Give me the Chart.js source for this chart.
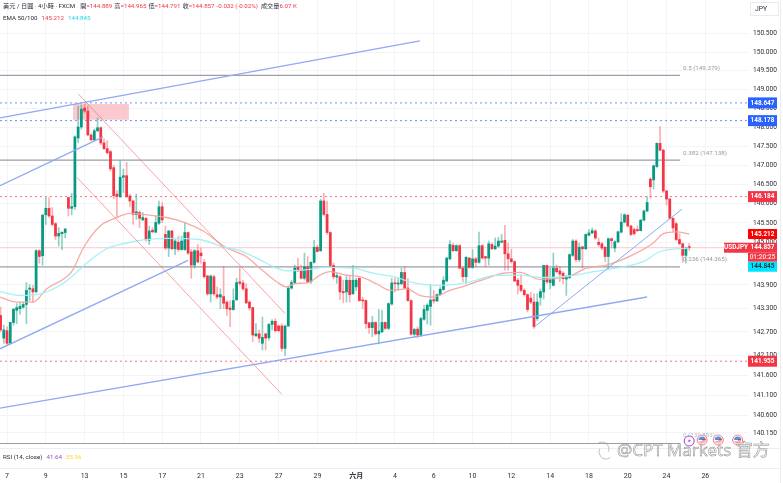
<!DOCTYPE html>
<html>
<head>
<meta charset="utf-8">
<title>USDJPY 4H</title>
<script src="https://cdn.jsdelivr.net/npm/chart.js@4"></script>
<style>
  html, body { margin: 0; padding: 0; background: #fff; }
  canvas { display: block; }
</style>
</head>
<body>
<canvas id="myChart" width="783" height="483"></canvas>
<script>
// 4h candles, the first one sits two bars left of the "7" tick
var opens = [
  143.12,142.54,142.73,142.41,142.94,143.25,143.29,143.33,143.40,143.79,
  143.80,143.72,144.78,144.65,145.71,145.88,145.68,145.48,145.16,145.22,
  145.25,146.16,145.88,145.92,147.72,148.01,148.51,148.43,147.80,147.67,
  147.91,147.99,147.59,147.44,147.36,146.94,146.25,146.18,146.69,146.73,
  146.20,146.07,145.72,145.77,145.58,145.62,145.05,145.31,145.26,145.49,
  145.92,145.20,144.85,145.29,144.83,145.00,144.81,144.81,145.25,144.75,
  144.41,144.78,144.72,144.48,144.13,143.67,144.11,143.65,143.59,143.60,
  143.46,143.31,143.27,143.52,143.98,143.95,143.80,143.46,143.32,142.60,
  142.65,142.41,142.65,142.55,142.89,142.97,142.85,142.85,142.28,142.85,
  143.82,143.96,144.35,144.28,144.07,144.37,143.98,144.48,144.87,144.78,
  146.07,145.72,145.25,144.40,144.10,144.11,143.73,143.72,144.02,143.67,
  143.85,144.07,143.51,143.50,142.93,142.81,142.94,142.65,142.70,142.94,
  142.79,143.41,143.95,143.92,143.93,144.22,143.82,143.50,142.64,142.77,
  142.62,143.02,143.25,143.35,143.52,143.49,143.65,143.78,144.00,144.57,
  144.92,144.78,144.91,144.33,144.11,144.59,144.35,144.57,144.48,144.91,
  144.63,144.59,144.94,144.83,144.90,145.00,145.05,144.70,144.57,144.50,
  144.02,143.89,143.76,143.65,143.56,143.46,143.04,143.58,143.72,144.40,
  143.96,143.89,144.33,144.26,144.20,144.05,144.09,144.66,145.03,144.55,
  144.88,144.83,145.18,145.24,145.29,145.00,144.96,144.87,144.63,145.09,
  144.85,145.01,145.26,145.52,145.70,145.42,145.33,145.33,145.30,145.57,
  145.81,146.64,146.62,146.97,147.58,147.40,146.33,146.12,145.62,145.48,
  145.07,144.96,144.66,144.889
];
var highs = [
  143.33,142.87,142.83,142.94,143.29,143.42,143.46,143.46,143.96,143.91,
  143.89,144.81,144.81,145.72,146.16,146.16,145.90,145.51,145.38,145.26,
  145.36,146.16,146.27,147.78,148.56,148.59,148.62,148.56,147.83,147.96,
  148.25,148.02,147.70,147.65,147.40,147.00,146.34,147.12,146.90,147.08,
  146.25,146.09,146.25,145.81,145.77,145.64,145.42,145.38,145.68,146.07,
  146.03,145.42,145.31,145.31,145.07,145.16,145.16,145.51,145.27,144.81,
  144.81,144.94,144.85,144.55,144.15,144.15,144.15,143.85,143.80,144.37,
  143.50,143.50,143.80,144.07,144.33,144.02,143.93,143.50,143.33,142.91,
  142.75,143.08,142.66,142.91,143.01,143.04,142.87,142.91,142.87,143.85,
  144.02,144.41,144.59,144.41,144.72,144.63,144.50,145.05,144.92,146.12,
  146.27,146.07,145.27,144.46,144.20,144.14,144.02,144.15,144.15,144.40,
  144.07,144.08,143.59,143.52,142.95,143.10,142.96,143.27,143.25,142.96,
  143.44,144.07,144.07,144.07,144.33,144.37,144.07,143.52,142.79,142.83,
  143.07,143.38,143.42,143.91,143.76,143.67,143.85,144.11,144.61,145.04,
  144.98,144.94,144.94,144.35,144.63,144.61,144.81,144.61,145.26,144.94,
  144.63,145.03,144.98,145.11,145.13,145.20,145.44,144.98,144.81,144.52,
  144.07,144.15,143.80,143.67,143.71,143.67,143.67,143.80,144.41,144.41,
  144.33,144.72,144.41,144.37,144.24,144.15,144.70,145.07,145.07,144.98,
  144.90,145.22,145.33,145.37,145.33,145.11,145.00,144.89,145.11,145.11,
  145.04,145.29,145.74,145.74,145.72,145.44,145.37,145.42,145.59,145.83,
  146.18,146.68,147.00,147.59,148.02,147.43,146.35,146.14,145.64,145.51,
  145.22,144.98,144.87,144.965
];
var lows = [
  142.70,142.41,142.37,142.39,142.87,142.91,143.15,143.30,142.91,143.50,
  143.46,143.71,144.46,144.41,145.46,145.64,145.42,145.07,144.90,144.81,
  145.11,145.68,145.71,145.85,147.60,147.95,148.38,147.78,147.65,147.65,
  147.88,147.54,147.41,147.30,146.85,146.13,145.64,146.16,146.29,146.16,
  145.93,145.46,145.59,145.38,145.55,145.03,144.94,145.24,145.24,145.46,
  145.51,144.81,144.63,144.81,144.68,144.76,144.79,144.79,144.68,144.07,
  144.33,144.46,144.46,144.07,143.63,143.46,143.63,143.54,143.29,143.29,
  143.12,142.83,143.25,143.50,143.89,143.76,143.42,143.25,142.45,142.58,
  142.43,142.24,142.24,142.49,142.75,142.70,142.70,142.21,142.10,142.83,
  143.79,143.94,144.24,144.05,144.02,143.94,143.94,144.46,144.75,144.76,
  145.68,145.20,144.37,144.05,143.94,143.52,143.44,143.46,143.46,143.66,
  143.76,143.48,143.29,142.79,142.66,142.58,142.62,142.39,142.68,142.75,
  142.75,143.38,143.72,143.76,143.91,143.80,143.48,142.62,142.58,142.55,
  142.58,143.00,142.90,142.87,143.43,143.47,143.63,143.76,143.98,144.54,
  144.76,144.76,144.31,143.98,143.93,144.33,144.33,144.37,144.46,144.57,
  144.37,144.41,144.81,144.81,144.87,144.98,144.28,144.28,144.46,143.98,
  143.67,143.72,143.61,143.21,143.42,142.79,142.99,143.38,143.54,143.93,
  143.80,143.87,144.20,143.98,143.93,143.63,144.06,144.63,144.50,144.50,
  144.33,144.81,145.16,145.22,145.07,144.89,144.81,144.50,144.31,144.85,
  144.75,144.98,145.24,145.50,145.39,145.17,145.18,145.27,145.29,145.55,
  145.79,146.14,146.38,146.95,147.38,146.29,145.97,145.59,145.27,145.03,
  144.94,144.48,144.46,144.791
];
var closes = [
  142.75,142.75,142.41,142.94,143.28,143.32,143.35,143.40,143.76,143.82,
  143.72,144.78,144.63,145.70,145.88,145.68,145.46,145.16,145.23,145.26,
  145.34,145.88,145.92,147.75,148.01,148.48,148.43,147.80,147.67,147.91,
  147.99,147.59,147.44,147.33,146.91,146.21,146.19,146.69,146.73,146.18,
  146.07,145.72,145.79,145.62,145.64,145.07,145.29,145.27,145.51,145.92,
  145.58,144.85,145.29,144.83,145.03,144.81,145.03,145.25,144.72,144.41,
  144.78,144.49,144.65,144.11,143.67,144.13,143.67,143.59,143.65,143.43,
  143.29,143.27,143.50,143.96,143.94,143.80,143.44,143.31,142.62,142.65,
  142.54,142.56,142.54,142.89,142.97,142.73,142.73,142.28,142.85,143.82,
  143.96,144.33,144.26,144.07,144.37,143.96,144.48,144.87,144.76,146.07,
  145.72,145.25,144.40,144.11,144.14,143.72,143.70,144.02,143.65,144.02,
  144.02,143.50,143.49,142.91,142.81,142.94,142.65,142.72,142.94,142.79,
  143.42,143.95,143.93,143.95,144.22,143.82,143.50,142.64,142.76,142.62,
  143.04,143.27,143.38,143.51,143.49,143.65,143.79,144.02,144.59,144.94,
  144.78,144.91,144.33,144.11,144.61,144.35,144.57,144.48,144.91,144.59,
  144.59,144.96,144.83,144.90,145.03,145.03,144.70,144.57,144.50,144.00,
  143.89,143.76,143.65,143.27,143.46,142.83,143.46,143.73,144.40,143.98,
  144.04,144.33,144.24,144.18,144.06,144.11,144.68,145.03,144.55,144.87,
  144.83,145.20,145.24,145.30,145.11,144.94,144.85,144.63,145.09,145.04,
  145.01,145.27,145.52,145.71,145.42,145.20,145.22,145.30,145.57,145.81,
  146.03,146.44,146.99,147.58,147.40,146.33,146.12,145.62,145.37,145.07,
  144.96,144.66,144.85,144.857
];

// EMA curves, sampled along the bars
var ema50Index = [-2.2,3,8.1,12.3,20,23.6,28.8,33.4,38,44.2,49.4,55,60.7,68,74,78.2,83.4,86.5,88.6,93.7,96.8,99.9,105,109.2,114.3,118.5,123.6,127.7,131.9,137,142.2,148.4,153.5,158.7,164.9,169,174.1,179.3,185.5,193.7,199.9,203,207.1,211];
var ema50Values = [143.59,143.46,143.46,143.80,144.24,144.85,145.42,145.62,145.75,145.70,145.64,145.51,145.29,144.85,144.63,144.33,143.98,143.85,143.92,143.98,144.15,144.24,144.15,144.11,143.93,143.76,143.80,143.63,143.59,143.76,143.89,144.07,144.20,144.22,144.04,144.06,144.13,144.33,144.41,144.68,144.98,145.22,145.27,145.212];
var ema100Index = [-2.2,4,10.2,16.4,20,24.6,30.8,36,42.2,49.4,59.7,65.9,72,78.2,83.4,86.5,91.7,98.9,107.1,113.3,119.5,125.7,131.9,138,144.2,150.4,158.7,165.9,174.1,181.4,189.6,196.8,202,207.1,211];
var ema100Values = [143.73,143.63,143.67,143.89,144.11,144.46,144.83,144.96,145.06,145.10,145.07,144.90,144.78,144.55,144.33,144.26,144.28,144.35,144.33,144.20,144.11,143.96,143.89,143.91,144.00,144.14,144.15,144.09,144.13,144.24,144.35,144.50,144.76,144.83,144.845];

// hand drawn trend lines
var upperRailIndex = [-2.17,127.7];
var upperRailPrice = [148.25,150.3];
var shortRailIndex = [-2.17,29.7];
var shortRailPrice = [146.47,147.75];
var midRailIndex = [-2.17,56];
var midRailPrice = [142.27,144.53];
var lowerRailIndex = [-2.17,198];
var lowerRailPrice = [140.77,143.59];
var riseRailIndex = [163,208.8];
var riseRailPrice = [142.82,145.86];
var fallUpperIndex = [22,86];
var fallUpperPrice = [148.89,143.17];
var fallLowerIndex = [21.7,85];
var fallLowerPrice = [146.68,141.12];

// supply box near the top
var boxIndex = [20.4,37.7];
var boxTop = 148.62;
var boxBottom = 148.2;

// horizontal levels
var fibPrices = [149.379,147.138,144.365,139.883];
var fibLabels = ['0.5 (149.379)','0.382 (147.138)','0.236 (144.365)','0 (139.883)'];
var fibEndIndex = 208.2;
var blueLevels = [148.647,148.178];
var redLevels = [146.184,141.955];
var lastPrice = 144.857;
var ema50Last = 145.212;
var ema100Last = 144.845;

// axes
var firstIndex = -2.17;
var lastIndex = 229.2;
var tickIndex = [0,12,24,36,48,60,72,84,96,108,120,132,144,156,168,180,192,204,216];
var tickLabels = ['7','9','13','15','17','21','23','27','29','六月','4','6','10','12','14','18','20','24','26'];
var priceTicks = [150.5,150,149.5,149,148.5,148,147.5,147,146.5,146,145.5,145,143.9,143.3,142.7,142.1,141.6,141.1,140.6,140.15];
var priceMin = 139.875;
var priceMax = 151.40;

// calendar markers at the bottom of the price pane
var eventIndex = [211,215,220,226];
var eventKinds = ['bolt','flag','flag','flag'];

var UP = '#089981';
var DOWN = '#f23645';
var UI_FONT = 'Roboto, "Noto Sans CJK TC", sans-serif';

function points(xs, ys) {
  return xs.map(function (x, i) { return { x: x, y: ys[i] }; });
}

function level(price, fromIndex, toIndex) {
  return [{ x: fromIndex, y: price }, { x: toIndex, y: price }];
}

// the layout would otherwise reserve room for half a tick label on each side
function noMargins(scale) {
  scale.paddingLeft = 0;
  scale.paddingRight = 0;
  scale.paddingTop = 0;
  scale.paddingBottom = 0;
}

var candleIndex = opens.map(function (_, i) { return i - 2; });
var bodies = candleIndex.map(function (x, i) { return { x: x, y: [opens[i], closes[i]] }; });
var wicks = candleIndex.map(function (x, i) { return { x: x, y: [lows[i], highs[i]] }; });
var bodyColors = opens.map(function (o, i) { return closes[i] >= o ? UP : DOWN; });
var wickColors = opens.map(function (o, i) {
  return closes[i] >= o ? 'rgba(8,153,129,0.45)' : 'rgba(242,54,69,0.4)';
});

function trendSet(xs, ys, color, width) {
  return { type: 'line', data: points(xs, ys), borderColor: color, borderWidth: width, pointRadius: 0, order: 2 };
}

function levelSet(price, toIndex, color, width, dash) {
  return {
    type: 'line',
    data: level(price, firstIndex, toIndex),
    borderColor: color,
    borderWidth: width,
    borderDash: dash || [],
    pointRadius: 0,
    order: 9
  };
}

var datasets = [
  // supply box
  {
    type: 'line',
    data: level(boxTop, boxIndex[0], boxIndex[1]),
    borderWidth: 0,
    pointRadius: 0,
    backgroundColor: 'rgba(247,150,158,0.5)',
    fill: { value: boxBottom },
    order: 10
  },
  { type: 'bar', data: wicks, backgroundColor: wickColors, barThickness: 1, grouped: false, order: 5 },
  { type: 'bar', data: bodies, backgroundColor: bodyColors, barThickness: 2.1, minBarLength: 1, grouped: false, order: 4 },
  { type: 'line', data: points(ema100Index, ema100Values), borderColor: 'rgba(160,240,246,0.95)', borderWidth: 1.3, pointRadius: 0, cubicInterpolationMode: 'monotone', order: 3 },
  { type: 'line', data: points(ema50Index, ema50Values), borderColor: 'rgba(247,165,160,0.95)', borderWidth: 1.3, pointRadius: 0, cubicInterpolationMode: 'monotone', order: 3 },
  trendSet(upperRailIndex, upperRailPrice, '#8fa9f3', 1.3),
  trendSet(shortRailIndex, shortRailPrice, '#8fa9f3', 1.3),
  trendSet(midRailIndex, midRailPrice, '#8fa9f3', 1.3),
  trendSet(lowerRailIndex, lowerRailPrice, '#8fa9f3', 1.3),
  trendSet(riseRailIndex, riseRailPrice, '#8fa9f3', 1),
  trendSet(fallUpperIndex, fallUpperPrice, 'rgba(242,100,105,0.75)', 0.8),
  trendSet(fallLowerIndex, fallLowerPrice, 'rgba(242,100,105,0.75)', 0.8),
  levelSet(lastPrice, lastIndex, 'rgba(242,54,69,0.28)', 1)
];
fibPrices.forEach(function (p) { datasets.push(levelSet(p, fibEndIndex, '#9b9ea6', 1.2)); });
blueLevels.forEach(function (p) { datasets.push(levelSet(p, lastIndex, '#6a92f6', 1, [2, 3])); });
redLevels.forEach(function (p) { datasets.push(levelSet(p, lastIndex, '#f4737d', 1, [2, 3])); });

function drawRun(ctx, x, y, parts) {
  parts.forEach(function (part) {
    ctx.fillStyle = part[1];
    ctx.fillText(part[0], x, y);
    x += ctx.measureText(part[0]).width + (part[2] || 0);
  });
}

function drawTag(ctx, top, height, text, fill, color) {
  ctx.fillStyle = fill;
  ctx.fillRect(748, top, 29, height);
  ctx.fillStyle = color;
  ctx.fillText(text, 762.5, top + height / 2);
}

function drawFlag(ctx, x, y) {
  ctx.beginPath();
  ctx.arc(x, y, 5, 0, Math.PI * 2);
  ctx.fillStyle = '#fff';
  ctx.fill();
  ctx.strokeStyle = '#f77b82';
  ctx.lineWidth = 1;
  ctx.stroke();
  ctx.save();
  ctx.beginPath();
  ctx.arc(x, y, 3.6, 0, Math.PI * 2);
  ctx.clip();
  ctx.fillStyle = '#3f9bf0';
  ctx.fillRect(x - 4, y - 4, 8, 4);
  ctx.fillStyle = '#f23645';
  ctx.fillRect(x, y - 1, 4, 1.5);
  ctx.fillStyle = '#f7b4b8';
  ctx.fillRect(x - 4, y + 1, 8, 3);
  ctx.restore();
}

function drawBolt(ctx, x, y) {
  ctx.beginPath();
  ctx.arc(x, y, 5, 0, Math.PI * 2);
  ctx.fillStyle = '#fff';
  ctx.fill();
  ctx.strokeStyle = '#a13fd8';
  ctx.lineWidth = 1;
  ctx.stroke();
  ctx.beginPath();
  ctx.moveTo(x + 1, y - 3);
  ctx.lineTo(x - 1.5, y + 0.5);
  ctx.lineTo(x + 0.5, y + 0.5);
  ctx.lineTo(x - 1, y + 3);
  ctx.lineTo(x + 1.8, y - 0.8);
  ctx.lineTo(x - 0.2, y - 0.8);
  ctx.closePath();
  ctx.fillStyle = '#a13fd8';
  ctx.fill();
}

// everything that sits outside the candles: header, tags, panes, watermark
var overlay = {
  id: 'overlay',
  afterDraw: function (chart) {
    var ctx = chart.ctx;
    var xScale = chart.scales.x;
    var yScale = chart.scales.y;
    ctx.save();

    // pane borders
    ctx.strokeStyle = '#eceef3';
    ctx.lineWidth = 1;
    ctx.beginPath();
    ctx.moveTo(0, 448.5); ctx.lineTo(780, 448.5);
    ctx.moveTo(0, 468.5); ctx.lineTo(780, 468.5);
    ctx.moveTo(780.5, 0); ctx.lineTo(780.5, 483);
    ctx.stroke();

    // header rows
    ctx.textBaseline = 'middle';
    ctx.textAlign = 'left';
    ctx.font = '6.2px ' + UI_FONT;
    drawRun(ctx, 3, 6, [
      ['美元 / 日圓 · 4小時 · FXCM', '#2a2e39', 5],
      ['開', '#2a2e39'], ['=144.889', DOWN, 2],
      ['高', '#2a2e39'], ['=144.965', DOWN, 2],
      ['低', '#2a2e39'], ['=144.791', DOWN, 2],
      ['收', '#2a2e39'], ['=144.857', DOWN, 2],
      ['-0.032 (-0.02%)', DOWN, 3],
      ['成交量', '#2a2e39'], ['6.07 K', DOWN]
    ]);
    drawRun(ctx, 3, 18, [
      ['EMA 50/100', '#2a2e39', 4],
      ['145.212', '#f23645', 4],
      ['144.845', '#22d6e8']
    ]);
    drawRun(ctx, 3, 457, [
      ['RSI (14, close)', '#2a2e39', 4],
      ['41.64', '#7e57c2', 4],
      ['55.96', '#fdd835']
    ]);

    // fib labels next to their lines
    ctx.fillStyle = '#9598a1';
    fibPrices.forEach(function (p, i) {
      if (i < 3) {
        ctx.fillText(fibLabels[i], xScale.getPixelForValue(fibEndIndex) + 3, yScale.getPixelForValue(p) - 7);
      }
    });
    ctx.fillStyle = '#b8bbc2';
    ctx.fillText(fibLabels[3], xScale.getPixelForValue(fibEndIndex) + 3, yScale.getPixelForValue(fibPrices[3]) - 8);

    // currency box
    ctx.fillStyle = '#fff';
    ctx.fillRect(750, 2, 29, 14);
    ctx.strokeStyle = '#e8eaef';
    ctx.strokeRect(750.5, 2.5, 28, 13);
    ctx.fillStyle = '#2a2e39';
    ctx.font = '6.8px ' + UI_FONT;
    ctx.fillText('JPY', 755, 9.5);

    // price tags on the axis
    ctx.font = 'bold 6.4px ' + UI_FONT;
    ctx.textAlign = 'center';
    blueLevels.forEach(function (p) {
      var y = yScale.getPixelForValue(p);
      drawTag(ctx, y - 5.5, 11, p.toFixed(3), '#2962ff', '#fff');
    });
    redLevels.forEach(function (p) {
      var y = yScale.getPixelForValue(p);
      drawTag(ctx, y - 5.5, 11, p.toFixed(3), '#f23645', '#fff');
    });
    var emaY = yScale.getPixelForValue(ema50Last);
    drawTag(ctx, emaY - 5, 10, ema50Last.toFixed(3), '#ff0000', '#fff');

    var lastY = yScale.getPixelForValue(lastPrice);
    drawTag(ctx, lastY - 5, 10, lastPrice.toFixed(3), '#f23645', '#fff');
    ctx.fillStyle = '#f23645';
    ctx.fillRect(748, lastY + 5, 29, 9);
    ctx.fillStyle = '#ffd5d8';
    ctx.fillText('01:20:25', 762.5, lastY + 9.5);
    ctx.fillStyle = '#f23645';
    ctx.fillRect(724, lastY - 5, 24, 10);
    ctx.fillStyle = '#fff';
    ctx.fillText('USDJPY', 736, lastY);
    ctx.fillStyle = '#00e5ff';
    ctx.fillRect(748, lastY + 14, 29, 10);
    ctx.fillStyle = '#0c3b40';
    ctx.fillText(ema100Last.toFixed(3), 762.5, lastY + 19);

    // calendar markers
    eventIndex.forEach(function (idx, i) {
      var x = xScale.getPixelForValue(idx);
      if (eventKinds[i] === 'bolt') {
        drawBolt(ctx, x, 441);
      } else {
        drawFlag(ctx, x, 440);
      }
    });

    // watermark
    ctx.textAlign = 'left';
    ctx.font = '17px "Open Sans", "Noto Sans CJK SC", sans-serif';
    ctx.lineWidth = 0.5;
    ctx.strokeStyle = '#85878c';
    ctx.fillStyle = 'rgba(255,255,255,0.9)';
    ctx.fillText('@CPT Markets 官方', 617, 451);
    ctx.strokeText('@CPT Markets 官方', 617, 451);
    ctx.beginPath();
    ctx.arc(606, 452, 7, 0.9, 3.6);
    ctx.stroke();
    ctx.beginPath();
    ctx.arc(602, 449, 7, -2.2, 0.4);
    ctx.stroke();

    ctx.restore();
  }
};

var ctx = document.getElementById('myChart');
var myChart = new Chart(ctx, {
  type: 'bar',
  data: { datasets: datasets },
  plugins: [overlay],
  options: {
    responsive: false,
    animation: false,
    layout: { padding: 0 },
    plugins: { legend: { display: false }, tooltip: { enabled: false } },
    scales: {
      x: {
        type: 'linear',
        min: firstIndex,
        max: lastIndex,
        offset: false,
        border: { display: false },
        grid: { color: '#f2f4f8', drawTicks: false, offset: false },
        afterBuildTicks: function (scale) {
          scale.ticks = tickIndex.map(function (v) { return { value: v }; });
        },
        afterFit: function (scale) {
          scale.height = 39;
          noMargins(scale);
        },
        ticks: {
          autoSkip: false,
          maxRotation: 0,
          padding: 28,
          color: '#2a2e39',
          font: function (c) {
            var isMonth = c.tick && tickIndex.indexOf(c.tick.value) === 9;
            return { family: UI_FONT, size: 7, weight: isMonth ? 'bold' : 'normal' };
          },
          callback: function (value) { return tickLabels[tickIndex.indexOf(value)]; }
        }
      },
      y: {
        type: 'logarithmic',
        position: 'right',
        min: priceMin,
        max: priceMax,
        border: { display: false },
        grid: { color: '#f2f4f8', drawTicks: false },
        afterBuildTicks: function (scale) {
          scale.ticks = priceTicks.map(function (v) { return { value: v }; });
        },
        afterFit: function (scale) {
          scale.width = 35;
          noMargins(scale);
        },
        ticks: {
          autoSkip: false,
          padding: 5,
          color: '#2a2e39',
          font: { family: UI_FONT, size: 6.6 },
          callback: function (value) { return Number(value).toFixed(3); }
        }
      }
    }
  }
});
</script>
</body>
</html>
